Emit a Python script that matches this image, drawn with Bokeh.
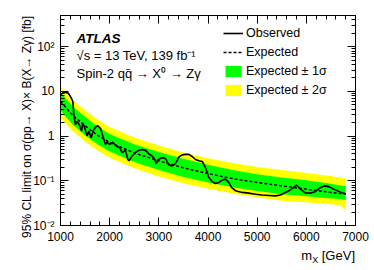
import math
from bokeh.plotting import figure
from bokeh.layouts import column
from bokeh.models import (FixedTicker, Label, Legend, LegendItem, LinearAxis,
                          LogAxis, Range1d, ColumnDataSource, CustomJSTickFormatter,
                          Title, Div)
from bokeh.embed import file_html
from bokeh.resources import INLINE

# ---- data ----
mass_band = [1000, 1250, 1500, 1750, 2000, 2500, 3000, 3500, 4000, 4500,
             5000, 5500, 6000, 6500, 6700, 6800]
expected = [6.0, 2.9, 1.7, 1.05, 0.72, 0.42, 0.28, 0.195, 0.145, 0.112,
            0.092, 0.077, 0.065, 0.055, 0.052, 0.051]
plus1 = [9.6, 4.6, 2.7, 1.65, 1.12, 0.66, 0.44, 0.31, 0.23, 0.175,
         0.14, 0.118, 0.103, 0.086, 0.079, 0.077]
minus1 = [3.7, 1.8, 1.05, 0.66, 0.45, 0.265, 0.175, 0.122, 0.092, 0.072,
          0.059, 0.050, 0.045, 0.040, 0.039, 0.037]
plus2 = [13.0, 6.4, 3.8, 2.35, 1.6, 0.93, 0.62, 0.43, 0.32, 0.25,
         0.205, 0.175, 0.15, 0.128, 0.116, 0.112]
minus2 = [2.5, 1.3, 0.76, 0.48, 0.33, 0.19, 0.125, 0.088, 0.066, 0.052,
          0.043, 0.036, 0.033, 0.030, 0.028, 0.022]

mass_obs = [1000, 1068, 1156, 1203, 1251, 1271, 1305, 1339, 1386, 1427, 1454,
            1495, 1542, 1576, 1624, 1664, 1712, 1759, 1813, 1861, 1915, 1949,
            1997, 2064, 2132, 2200, 2254, 2322, 2370, 2395, 2457, 2525, 2593,
            2661, 2729, 2796, 2864, 2918, 2946, 2979, 3034, 3101, 3149, 3190,
            3257, 3325, 3373, 3406, 3474, 3542, 3610, 3678, 3746, 3813, 3881,
            3915, 3963, 4016, 4085, 4152, 4220, 4288, 4356, 4423, 4478, 4559,
            4695, 4830, 4966, 5102, 5237, 5373, 5474, 5643, 5712, 5800, 5881,
            5983, 6084, 6186, 6288, 6369, 6457, 6558, 6660, 6749, 6800]
observed = [8.5, 9.6, 9.2, 7.7, 6.0, 3.0, 1.8, 2.15, 1.76, 1.3, 2.0,
            1.5, 1.0, 1.3, 0.92, 1.3, 1.6, 1.7, 1.5, 1.0, 0.65, 0.73,
            0.65, 0.73, 0.6, 0.55, 0.43, 0.48, 0.30, 0.28, 0.36, 0.43, 0.48,
            0.50, 0.48, 0.40, 0.36, 0.30, 0.24, 0.29, 0.32, 0.33, 0.30, 0.235,
            0.215, 0.235, 0.28, 0.34, 0.38, 0.39, 0.39, 0.35, 0.30, 0.28, 0.27,
            0.235, 0.18, 0.118, 0.096, 0.087, 0.092, 0.104, 0.109, 0.092, 0.071, 0.060,
            0.055, 0.053, 0.050, 0.048, 0.047, 0.046, 0.048, 0.060, 0.067, 0.080, 0.065,
            0.053, 0.053, 0.058, 0.071, 0.077, 0.074, 0.065, 0.058, 0.053, 0.051]

x_major = [1000, 2000, 3000, 4000, 5000, 6000, 7000]
y_major = [0.01, 0.1, 1, 10, 100]
y_labels = {0.01: "10\u207b\u00b2", 0.1: "10\u207b\u00b9", 1: "1", 10: "10", 100: "10\u00b2"}
y_title = "95% CL limit on \u03c3(pp\u2192 X)\u00d7 B(X\u2192 Z\u03b3) [fb]"

FONT = "Liberation Sans"

band_src = ColumnDataSource(dict(m=mass_band, exp=expected, p1=plus1, m1=minus1,
                                 p2=plus2, m2=minus2))
obs_src = ColumnDataSource(dict(m=mass_obs, obs=observed))

p = figure(width=374, height=248, x_range=Range1d(1000, 7000),
           y_range=Range1d(0.01, 500), y_axis_type="log",
           output_backend="svg", toolbar_location=None,
           min_border_left=60, min_border_right=19, min_border_top=15,
           min_border_bottom=23)
p.background_fill_color = "white"
p.border_fill_color = "white"
p.outline_line_color = "black"
p.outline_line_width = 1
p.xgrid.visible = False
p.ygrid.visible = False

r2 = p.varea(x="m", y1="m2", y2="p2", source=band_src, fill_color="#ffff00")
r1 = p.varea(x="m", y1="m1", y2="p1", source=band_src, fill_color="#00ff00")
re = p.line(x="m", y="exp", source=band_src, line_color="black",
            line_width=1.5, line_dash="3 2")
ro = p.line(x="m", y="obs", source=obs_src, line_color="black", line_width=1.6)

x_minor = list(range(1000, 7001, 200))
y_minor = [k * 10.0 ** e for e in range(-2, 3) for k in range(2, 10) if k * 10.0 ** e <= 500]


def style_axis(ax, major_len, minor_len):
    ax.major_tick_in = major_len
    ax.major_tick_out = 0
    ax.minor_tick_in = minor_len
    ax.minor_tick_out = 0
    ax.axis_line_color = "black"
    ax.major_tick_line_color = "black"
    ax.minor_tick_line_color = "black"
    ax.major_label_text_color = "black"
    ax.major_label_text_font = FONT
    ax.major_label_text_font_size = "12px"


xa = p.xaxis[0]
xa.ticker = FixedTicker(ticks=x_major, minor_ticks=x_minor)
style_axis(xa, 8, 4)
xa.major_label_standoff = 6

ya = p.yaxis[0]
ya.ticker = FixedTicker(ticks=y_major, minor_ticks=y_minor)
style_axis(ya, 8, 4)
ya.major_label_standoff = 6
ya.major_label_overrides = y_labels

top = LinearAxis(ticker=FixedTicker(ticks=x_major, minor_ticks=x_minor),
                 formatter=CustomJSTickFormatter(code="return ''"))
style_axis(top, 8, 4)
top.major_label_standoff = 0
p.add_layout(top, "above")

right = LogAxis(ticker=FixedTicker(ticks=y_major, minor_ticks=y_minor),
                formatter=CustomJSTickFormatter(code="return ''"))
style_axis(right, 8, 4)
right.major_label_standoff = 0
p.add_layout(right, "right")

# y-axis title (right-aligned to the top of the frame, ROOT style)
p.add_layout(Title(text=y_title, align="right", text_font=FONT,
                   text_font_size="12px", text_font_style="normal",
                   text_color="black", standoff=-6), "left")

legend = Legend(items=[
    LegendItem(label="Observed", renderers=[ro]),
    LegendItem(label="Expected", renderers=[re]),
    LegendItem(label="Expected \u00b1 1\u03c3", renderers=[r1]),
    LegendItem(label="Expected \u00b1 2\u03c3", renderers=[r2]),
], location=(163, 128))
legend.border_line_color = None
legend.background_fill_alpha = 0
legend.glyph_width = 20
legend.glyph_height = 14
legend.label_height = 14
legend.label_standoff = 3
legend.spacing = 5
legend.padding = 4
legend.margin = 0
legend.label_text_font = FONT
legend.label_text_font_size = "12.5px"
legend.label_text_color = "black"
p.add_layout(legend, "center")


def lab(text, x, y, size="13px", style="normal"):
    p.add_layout(Label(x=x, y=y, x_units="screen", y_units="screen", text=text,
                       text_font=FONT, text_font_size=size, text_font_style=style,
                       text_align="left", text_baseline="alphabetic",
                       text_color="black"))


lab("ATLAS", 16, 187, size="13.5px", style="bold italic")
lab("\u221as = 13 TeV, 139 fb\u207b\u00b9", 16, 170)
lab("Spin-2 qq\u0304 \u2192 X\u2070 \u2192 Z\u03b3", 16, 152)

# x-axis title below the plot, right-aligned to the frame
xt = Div(text=('<div style="width:355px;text-align:right;font-family:\'Liberation Sans\';'
               'font-size:13px;line-height:13px;color:black;white-space:nowrap;">'
               'm<sub style="font-size:9px;line-height:0;vertical-align:-3px;">X</sub>'
               ' [GeV]</div>'),
         width=374, height=22, margin=0)

layout = column(p, xt, spacing=0)
open("out.html", "w").write(file_html(layout, INLINE))
